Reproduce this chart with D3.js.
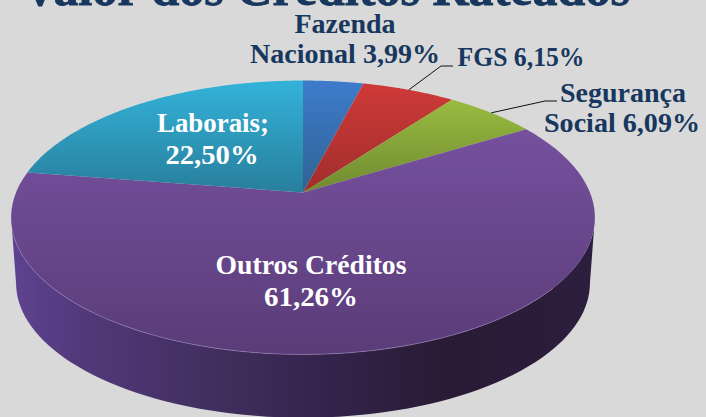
<!DOCTYPE html>
<html><head><meta charset="utf-8">
<script src="https://cdnjs.cloudflare.com/ajax/libs/d3/7.8.5/d3.min.js"></script>
<style>html,body{margin:0;padding:0;background:#d9d9d9;overflow:hidden}svg{display:block}
text{font-family:"Liberation Serif",serif;font-weight:700}</style></head><body>
<script>
const categories = ["Fazenda Nacional","FGS","Segurança Social","Outros Créditos","Laborais"];
const values = [3.99,6.15,6.09,61.26,22.50];
const valueLabels = ["3,99%","6,15%","6,09%","61,26%","22,50%"];
const topColors = ["#3e7bcc","#d03a38","#a3c644","#7b55a6","#33b3da"];
const lowColors = ["#2e6494","#a02e2c","#6f8a30","#5a3c78","#287f9c"];

const W=706,H=417, cx=303, cy=192.5, bx=287, ay=132.4, p=0.1825, depth=66, shrink=0.983;
const svg=d3.select("body").append("svg").attr("width",W).attr("height",H);
svg.append("rect").attr("width",W).attr("height",H).attr("fill","#d9d9d9");
const defs=svg.append("defs");

// projective mapping of the pie's unit circle to the tilted view
const project=(a,r=1,lower=false)=>{
  const u=r*Math.sin(a), v=r*Math.cos(a), d=1+p*v, s=lower?shrink:1;
  return [cx+s*bx*u/d, cy-s*ay*v/d+(lower?depth:0)];
};
const pie=d3.pie().sort(null).value(d=>d)(values);
const line=d3.line();
const samples=(a0,a1,lower)=>d3.range(0,81).map(i=>project(a0+(a1-a0)*i/80,1,lower));

// gradients
categories.forEach((c,i)=>{
  const g=defs.append("linearGradient").attr("id","s"+i).attr("gradientUnits","userSpaceOnUse")
    .attr("x1",0).attr("x2",0).attr("y1",80).attr("y2",i==3?354:192);
  g.append("stop").attr("offset",0).attr("stop-color",topColors[i]);
  g.append("stop").attr("offset",1).attr("stop-color",lowColors[i]);
});
const sg=defs.append("linearGradient").attr("id","side").attr("gradientUnits","userSpaceOnUse").attr("x1",12).attr("x2",596).attr("y1",0).attr("y2",0);
[[0,"#5e4290"],[0.12,"#52397a"],[0.35,"#412e5e"],[0.55,"#33234a"],[0.75,"#291a34"],[1,"#2c1e3e"]].forEach(s=>sg.append("stop").attr("offset",s[0]).attr("stop-color",s[1]));

// side wall: between the two silhouette extremes of the projected rim, round the front
const tangent=Math.acos(-p);
const aR=tangent, aL=2*Math.PI-tangent;
svg.append("path").attr("fill","url(#side)")
  .attr("d",line(samples(aR,aL,false).concat(samples(aL,aR,true)))+"Z");

// top slices
svg.selectAll("path.slice").data(pie).join("path").attr("class","slice")
  .attr("fill",(d,i)=>`url(#s${i})`)
  .attr("d",d=>line([[cx,cy]].concat(samples(d.startAngle,d.endAngle,false)))+"Z");

// highlight on the front rim
svg.append("path").attr("fill","none").attr("stroke","#9780ba").attr("stroke-width",1).attr("opacity",.6)
  .attr("d",line(samples(Math.PI*0.72,Math.PI*1.4,false)));

// title clipped at top
svg.append("text").attr("x",326).attr("y",5).attr("text-anchor","middle").attr("fill","#17375e")
  .attr("font-size",50).attr("textLength",608).attr("lengthAdjust","spacingAndGlyphs")
  .attr("stroke","#17375e").attr("stroke-width",0.8)
  .text("Valor dos Créditos Rateados");

// leader lines
const leader=(i,pts)=>svg.append("path").attr("fill","none").attr("stroke","#111").attr("stroke-width",1)
  .attr("d",line([project((pie[i].startAngle+pie[i].endAngle)/2)].concat(pts)));
leader(1,[[441,66],[453,66]]);
leader(2,[[545,101],[557,101]]);

// labels
const label=(lines,x,y,color,size,widths)=>lines.forEach((t,k)=>svg.append("text")
  .attr("x",x[k]).attr("y",y[k]).attr("text-anchor","middle").attr("fill",color).attr("font-size",size)
  .attr("textLength",widths[k]).attr("lengthAdjust","spacingAndGlyphs").text(t));
const navy="#17375e";
label(["Fazenda","Nacional "+valueLabels[0]],[345,345],[33,63],navy,28,[101,190]);
label(["FGS "+valueLabels[1]],[521],[66],navy,28,[127]);
label(["Segurança","Social "+valueLabels[2]],[623,622],[102,132],navy,28,[126,156]);
label(["Outros Créditos",valueLabels[3]],[311,311],[274,306],"#fff",28,[191,94]);
label(["Laborais;",valueLabels[4]],[213,212],[132,164],"#fff",28,[112,93]);
</script></body></html>
